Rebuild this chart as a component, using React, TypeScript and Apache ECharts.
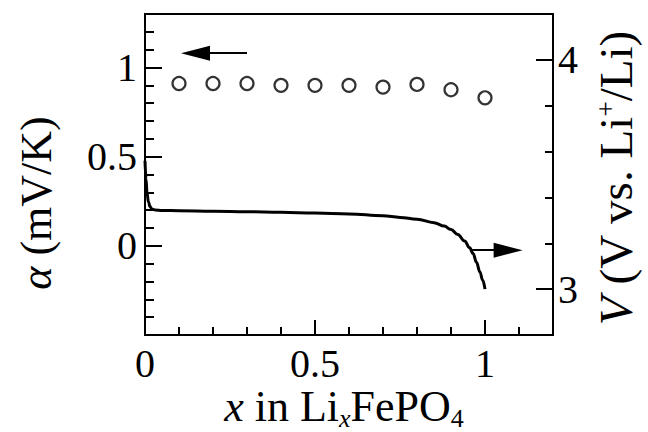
import React, { useEffect, useRef } from 'react';
import * as echarts from 'echarts';

// Seebeck coefficient alpha (mV/K) vs x
const alphaX = [0.1, 0.2, 0.3, 0.4, 0.5, 0.6, 0.7, 0.8, 0.9, 1.0];
const alphaY = [0.91, 0.91, 0.91, 0.9, 0.9, 0.9, 0.89, 0.905, 0.875, 0.83];

// Discharge voltage curve V (V vs Li+/Li) vs x
const voltX = [0, 0.003, 0.006, 0.01, 0.015, 0.02, 0.03, 0.05, 0.1, 0.2, 0.3, 0.4, 0.5, 0.6, 0.7, 0.75, 0.8, 0.85, 0.88, 0.9, 0.92, 0.94, 0.955, 0.965, 0.975, 0.985, 0.993, 1.0];
const voltY = [3.56, 3.48, 3.42, 3.38, 3.36, 3.35, 3.345, 3.343, 3.342, 3.34, 3.338, 3.335, 3.332, 3.328, 3.32, 3.313, 3.305, 3.29, 3.275, 3.26, 3.238, 3.21, 3.18, 3.155, 3.117, 3.075, 3.04, 3.0];

// Axis ticks / labels
const xTickLabels = [0, 0.5, 1];
const xMajorTicks = [0.5, 1];
const alphaTickLabels = [0, 0.5, 1];
const alphaMajorTicks = [0, 0.5, 1];
const voltTickLabels = [3, 4];
const voltMajorTicks = [3, 4];

// Arrow annotations [x, y] (start, head centre)
const leftArrowFrom = [0.3, 1.08];
const leftArrowTo = [0.1485, 1.08];
const rightArrowFrom = [0.962, 3.17];
const rightArrowTo = [1.068, 3.17];

const FONT = '"Liberation Serif", "Times New Roman", serif';
const BLACK = '#000';

export default function App() {
  const ref = useRef<HTMLDivElement>(null);

  useEffect(() => {
    document.body.style.margin = '0';
    if (!ref.current) return;
    const chart = echarts.init(ref.current, undefined, { renderer: 'svg' });

    const tickStyle = { color: BLACK, width: 2 };
    const labelStyle = { fontSize: 40, fontFamily: FONT, color: BLACK };

    const titleBase = { fontSize: 44, fontFamily: FONT, fill: BLACK };
    const rightTitle = { fontSize: 47, fontFamily: FONT, fill: BLACK };

    const option: any = {
      animation: false,
      grid: {
        left: 145,
        right: 95,
        top: 14,
        bottom: 97,
        show: true,
        borderColor: BLACK,
        borderWidth: 2,
        backgroundColor: 'transparent',
      },
      xAxis: [
        {
          type: 'value',
          min: 0,
          max: 1.2,
          interval: 0.1,
          position: 'bottom',
          axisLine: { show: false, onZero: false },
          axisTick: { inside: true, length: 8, lineStyle: tickStyle },
          axisLabel: { ...labelStyle, margin: 8, customValues: xTickLabels },
          splitLine: { show: false },
        },
        {
          type: 'value',
          min: 0,
          max: 1.2,
          position: 'bottom',
          axisLine: { show: false, onZero: false },
          axisTick: { inside: true, length: 15, lineStyle: tickStyle, customValues: xMajorTicks },
          axisLabel: { show: false },
          splitLine: { show: false },
        },
      ],
      yAxis: [
        {
          type: 'value',
          min: -0.5,
          max: 1.3,
          interval: 0.1,
          position: 'left',
          axisLine: { show: false, onZero: false },
          axisTick: { inside: true, length: 9, lineStyle: tickStyle },
          axisLabel: { ...labelStyle, margin: 8, customValues: alphaTickLabels },
          splitLine: { show: false },
        },
        {
          type: 'value',
          min: -0.5,
          max: 1.3,
          position: 'left',
          axisLine: { show: false, onZero: false },
          axisTick: { inside: true, length: 17, lineStyle: tickStyle, customValues: alphaMajorTicks },
          axisLabel: { show: false },
          splitLine: { show: false },
        },
        {
          type: 'value',
          min: 2.8,
          max: 4.2,
          interval: 0.2,
          position: 'right',
          axisLine: { show: false, onZero: false },
          axisTick: { inside: true, length: 8, lineStyle: tickStyle },
          axisLabel: { ...labelStyle, margin: 5, customValues: voltTickLabels },
          splitLine: { show: false },
        },
        {
          type: 'value',
          min: 2.8,
          max: 4.2,
          position: 'right',
          axisLine: { show: false, onZero: false },
          axisTick: { inside: true, length: 17, lineStyle: tickStyle, customValues: voltMajorTicks },
          axisLabel: { show: false },
          splitLine: { show: false },
        },
      ],
      series: [
        {
          type: 'line',
          name: 'V',
          xAxisIndex: 0,
          yAxisIndex: 2,
          data: voltX.map((x, i) => [x, voltY[i]]),
          showSymbol: false,
          smooth: 0.4,
          smoothMonotone: 'x',
          lineStyle: { color: BLACK, width: 3 },
          itemStyle: { color: BLACK },
          silent: true,
          markLine: {
            silent: true,
            symbol: ['none', 'triangle'],
            label: { show: false },
            lineStyle: { color: BLACK, width: 2, type: 'solid' },
            itemStyle: { color: BLACK },
            emphasis: { disabled: true },
            data: [
              [
                { coord: rightArrowFrom, symbol: 'none' },
                { coord: rightArrowTo, symbol: 'triangle', symbolSize: [15, 29] },
              ],
            ],
          },
        },
        {
          type: 'scatter',
          name: 'alpha',
          xAxisIndex: 0,
          yAxisIndex: 0,
          data: alphaX.map((x, i) => [x, alphaY[i]]),
          symbol: 'circle',
          symbolSize: 13,
          itemStyle: { color: '#fff', borderColor: BLACK, borderWidth: 2.2 },
          silent: true,
          z: 3,
          markLine: {
            silent: true,
            symbol: ['none', 'triangle'],
            label: { show: false },
            lineStyle: { color: BLACK, width: 2, type: 'solid' },
            itemStyle: { color: BLACK },
            emphasis: { disabled: true },
            data: [
              [
                { coord: leftArrowFrom, symbol: 'none' },
                { coord: leftArrowTo, symbol: 'triangle', symbolSize: [15, 29] },
              ],
            ],
          },
        },
      ],
      graphic: [
        {
          type: 'text',
          x: 36,
          y: 203,
          rotation: Math.PI / 2,
          style: {
            text: '{i|α} (mV/K)',
            ...titleBase,
            align: 'center',
            verticalAlign: 'middle',
            rich: {
              i: { ...titleBase, fontStyle: 'italic' },
            },
          },
        },
        {
          type: 'text',
          x: 616,
          y: 178,
          rotation: Math.PI / 2,
          style: {
            text: '{i|V} (V vs. Li{sup|+}/Li)',
            ...rightTitle,
            align: 'center',
            verticalAlign: 'middle',
            rich: {
              i: { ...rightTitle, fontStyle: 'italic' },
              sup: { fontSize: 27, fontFamily: FONT, fill: BLACK, verticalAlign: 'top' },
            },
          },
        },
        {
          type: 'text',
          x: 344,
          y: 406,
          style: {
            text: '{i|x} in Li{sub|x}FePO{s4|4}',
            ...titleBase,
            align: 'center',
            verticalAlign: 'middle',
            rich: {
              i: { ...titleBase, fontStyle: 'italic' },
              sub: { fontSize: 26, fontFamily: FONT, fill: BLACK, fontStyle: 'italic', verticalAlign: 'bottom', padding: [0, 0, -3, 0] },
              s4: { fontSize: 26, fontFamily: FONT, fill: BLACK, verticalAlign: 'bottom', padding: [0, 0, -3, 0] },
            },
          },
        },
      ],
    };

    chart.setOption(option);
    return () => chart.dispose();
  }, []);

  return <div ref={ref} style={{ width: 648, height: 432 }} />;
}
